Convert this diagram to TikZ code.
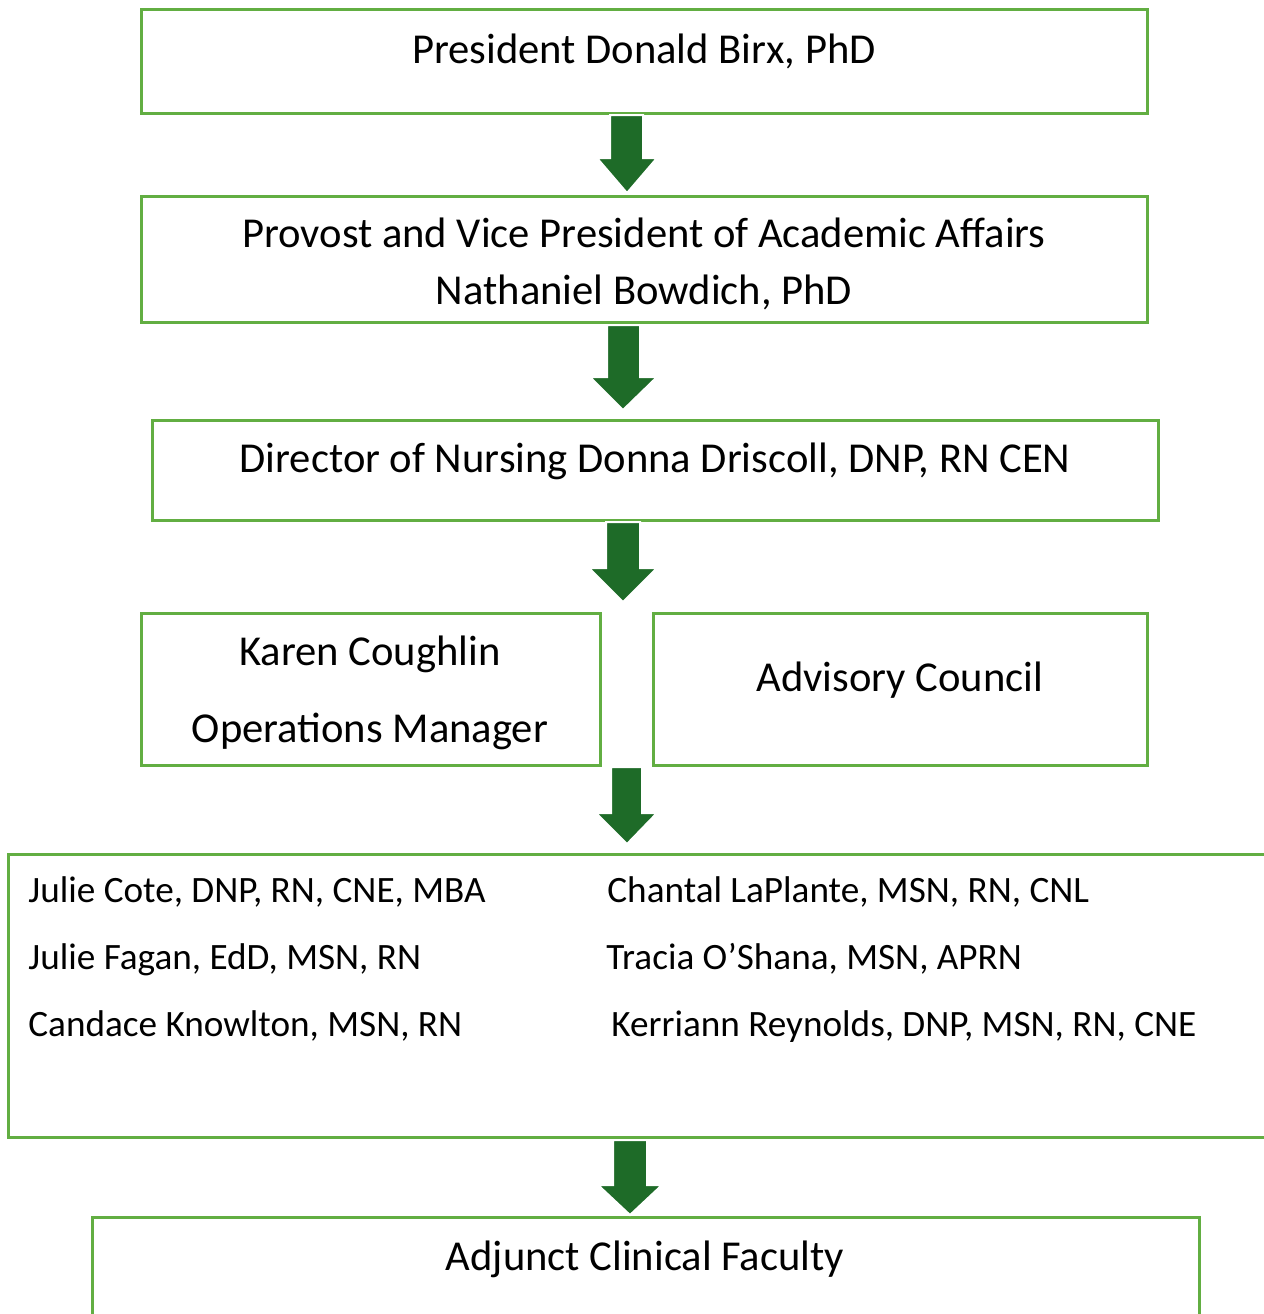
\documentclass[tikz,border=0pt]{standalone}
\usepackage{fontspec}
\setmainfont{Carlito}
\definecolor{boxgreen}{HTML}{62AE42}
\definecolor{arrowgreen}{HTML}{1E6B28}
\tikzset{
  box/.style={draw=boxgreen, line width=1.5pt, rectangle, inner sep=0pt},
  big/.style={font=\fontsize{21.3}{25}\selectfont, anchor=base, inner sep=0pt},
  small/.style={font=\fontsize{18.6}{22}\selectfont, anchor=base west, inner sep=0pt},
  blockarrow/.style={fill=arrowgreen, draw=white, line width=1pt, line join=miter},
}
\begin{document}
\begin{tikzpicture}[x=0.5pt, y=-0.5pt]
\useasboundingbox (0,0) rectangle (1264,1314);
% boxes
\node[box, minimum width=503pt, minimum height=52pt] (b1) at (644,61) {};
\node[box, minimum width=503pt, minimum height=63pt] (b2) at (644,259) {};
\node[box, minimum width=503pt, minimum height=50pt] (b3) at (655,470) {};
\node[box, minimum width=229.5pt, minimum height=76pt] (b4a) at (370.5,689) {};
\node[box, minimum width=247pt, minimum height=76pt] (b4b) at (900,689) {};
\node[box, minimum width=631pt, minimum height=141.5pt] (b5) at (639,995.5) {};
\node[box, minimum width=553.5pt, minimum height=60pt] (b6) at (645.5,1277) {};
% arrows
\filldraw[blockarrow] (610,115) -- (643,115) -- (643,158) -- (657,158) -- (627,193) -- (597,158) -- (610,158) -- cycle;
\filldraw[blockarrow] (607,325) -- (640,325) -- (640,377) -- (657,377) -- (623,410) -- (590,377) -- (607,377) -- cycle;
\filldraw[blockarrow] (606,522) -- (640,522) -- (640,568) -- (657,568) -- (623,602) -- (589,568) -- (606,568) -- cycle;
\filldraw[blockarrow] (611,767) -- (642,767) -- (642,813) -- (657,813) -- (627,844) -- (596,813) -- (611,813) -- cycle;
\filldraw[blockarrow] (613,1140) -- (647,1140) -- (647,1185) -- (662,1185) -- (630,1215) -- (598,1185) -- (613,1185) -- cycle;
% texts
\node[big] (t1) at (644,63) {President Donald Birx, PhD};
\node[big] (t2a) at (644,247) {Provost and Vice President of Academic Affairs};
\node[big] (t2b) at (644,304) {Nathaniel Bowdich, PhD};
\node[big] (t3) at (655,472) {Director of Nursing Donna Driscoll, DNP, RN CEN};
\node[big] (t4a) at (370,665) {Karen Coughlin};
\node[big] (t4b) at (370,742) {Operations Manager};
\node[big] (t4c) at (900,691) {Advisory Council};
\node[small] (p1) at (28,902) {Julie Cote, DNP, RN, CNE, MBA};
\node[small] (p2) at (28,969) {Julie Fagan, EdD, MSN, RN};
\node[small] (p3) at (28,1036) {Candace Knowlton, MSN, RN};
\node[small] (p4) at (607,902) {Chantal LaPlante, MSN, RN, CNL};
\node[small] (p5) at (606,969) {Tracia O’Shana, MSN, APRN};
\node[small] (p6) at (611,1036) {Kerriann Reynolds, DNP, MSN, RN, CNE};
\node[big] (t6) at (645,1270) {Adjunct Clinical Faculty};
\end{tikzpicture}
\end{document}
